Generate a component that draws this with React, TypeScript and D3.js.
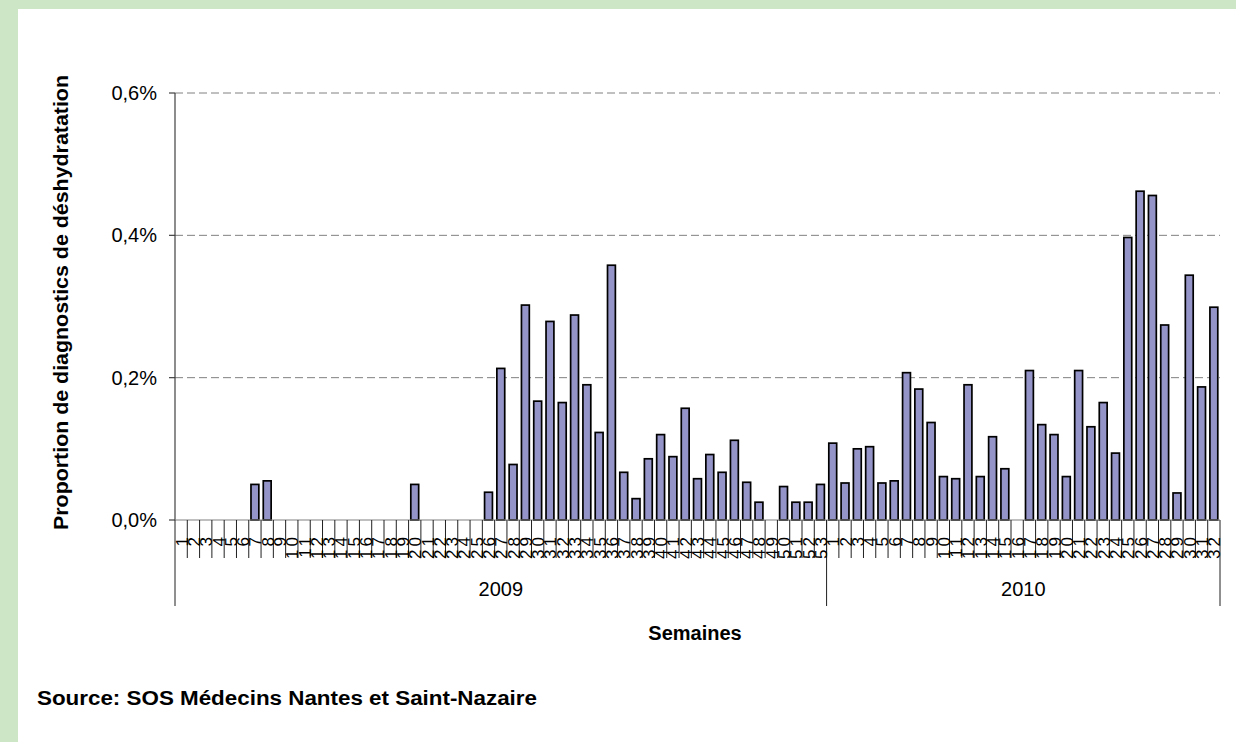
import React from "react";
import * as d3 from "d3";

const weeks2009: number[] = d3.range(1, 54);
const weeks2010: number[] = d3.range(1, 33);

const values2009: number[] = [
  0, 0, 0, 0, 0, 0, 0.050, 0.055, 0, 0,
  0, 0, 0, 0, 0, 0, 0, 0, 0, 0.050,
  0, 0, 0, 0, 0, 0.039, 0.213, 0.078, 0.302, 0.167,
  0.279, 0.165, 0.288, 0.190, 0.123, 0.358, 0.067, 0.030, 0.086, 0.120,
  0.089, 0.157, 0.058, 0.092, 0.067, 0.112, 0.053, 0.025, 0, 0.047,
  0.025, 0.025, 0.050,
];
const values2010: number[] = [
  0.108, 0.052, 0.100, 0.103, 0.052, 0.055, 0.207, 0.184, 0.137, 0.061,
  0.058, 0.190, 0.061, 0.117, 0.072, 0, 0.210, 0.134, 0.120, 0.061,
  0.210, 0.131, 0.165, 0.094, 0.397, 0.462, 0.456, 0.274, 0.038, 0.344,
  0.187, 0.299,
];
const years: string[] = ["2009", "2010"];
const yTicks: number[] = [0, 0.2, 0.4, 0.6];

const yAxisTitle = "Proportion de diagnostics de déshydratation";
const xAxisTitle = "Semaines";
const sourceText = "Source: SOS Médecins Nantes et Saint-Nazaire";

type Row = { key: string; year: string; week: number; value: number };

const rows: Row[] = [
  ...weeks2009.map((w, i) => ({ key: `2009-${w}`, year: years[0], week: w, value: values2009[i] })),
  ...weeks2010.map((w, i) => ({ key: `2010-${w}`, year: years[1], week: w, value: values2010[i] })),
];

const W = 1236;
const H = 742;
const left = 175;
const right = 1220;
const top = 93;
const bottom = 520;

export default function App() {
  const x = d3.scaleBand<string>().domain(rows.map((r) => r.key)).range([left, right]).padding(0);
  const y = d3.scaleLinear().domain([0, 0.6]).range([bottom, top]);
  const bw = x.bandwidth();
  const barW = bw * 0.64;
  const fmt = (v: number) => d3.format(".1f")(v).replace(".", ",") + "%";

  const yearGroups = years.map((yr) => {
    const rs = rows.filter((r) => r.year === yr);
    const x0 = x(rs[0].key)!;
    const x1 = x(rs[rs.length - 1].key)! + bw;
    return { yr, x0, x1 };
  });

  return (
    <svg
      width={W}
      height={H}
      style={{ position: "absolute", left: 0, top: 0, fontFamily: "Arial, 'Liberation Sans', sans-serif" }}
    >
      <rect x={0} y={0} width={W} height={H} fill="#cde6c6" />
      <rect x={18} y={9} width={W - 18} height={H - 9} fill="#ffffff" />

      {/* gridlines */}
      {yTicks.filter((t) => t > 0).map((t) => (
        <line key={`g${t}`} x1={left} x2={right} y1={y(t)} y2={y(t)} stroke="#808080" strokeWidth={1} strokeDasharray="8,4" />
      ))}

      {/* bars */}
      {rows.map((r) =>
        r.value > 0 ? (
          <rect
            key={r.key}
            x={x(r.key)! + (bw - barW) / 2}
            y={y(r.value)}
            width={barW}
            height={y(0) - y(r.value)}
            fill="#9494c8"
            stroke="#000"
            strokeWidth={1.7}
          />
        ) : null
      )}

      {/* y axis */}
      <line x1={left} x2={left} y1={top} y2={bottom} stroke="#404040" strokeWidth={1.2} />
      {yTicks.map((t) => (
        <g key={`t${t}`}>
          <line x1={left - 6} x2={left} y1={y(t)} y2={y(t)} stroke="#404040" strokeWidth={1.2} />
          <text x={157} y={y(t) + 7} textAnchor="end" fontSize={20} fill="#000">
            {fmt(t)}
          </text>
        </g>
      ))}

      {/* x axis */}
      <line x1={left} x2={right} y1={bottom} y2={bottom} stroke="#808080" strokeWidth={1.2} />
      {rows.map((r, i) =>
        i > 0 ? (
          <line key={`xt${r.key}`} x1={x(r.key)!} x2={x(r.key)!} y1={bottom} y2={558} stroke="#202020" strokeWidth={1} />
        ) : null
      )}
      {[left, ...yearGroups.map((g) => g.x1)].map((xx, i) => (
        <line key={`ys${i}`} x1={xx} x2={xx} y1={bottom} y2={606} stroke="#202020" strokeWidth={1} />
      ))}
      {rows.map((r) => (
        <text
          key={`xl${r.key}`}
          transform={`translate(${x(r.key)! + bw / 2 + 6.5},${534}) rotate(-90)`}
          textAnchor="end"
          fontSize={17}
          letterSpacing={3}
          fill="#000"
        >
          {String(r.week)}
        </text>
      ))}
      {yearGroups.map((g) => (
        <text key={`yl${g.yr}`} x={(g.x0 + g.x1) / 2} y={596} textAnchor="middle" fontSize={20} fill="#000">
          {g.yr}
        </text>
      ))}

      {/* titles */}
      <text
        transform={`translate(68,${(75 + 530) / 2}) rotate(-90)`}
        textAnchor="middle"
        fontSize={20}
        fontWeight="bold"
        textLength={455}
        lengthAdjust="spacingAndGlyphs"
        fill="#000"
      >
        {yAxisTitle}
      </text>
      <text x={695} y={640} textAnchor="middle" fontSize={20} fontWeight="bold" fill="#000">
        {xAxisTitle}
      </text>
      <text x={37} y={705} fontSize={20} fontWeight="bold" textLength={500} lengthAdjust="spacingAndGlyphs" fill="#000">
        {sourceText}
      </text>
    </svg>
  );
}
